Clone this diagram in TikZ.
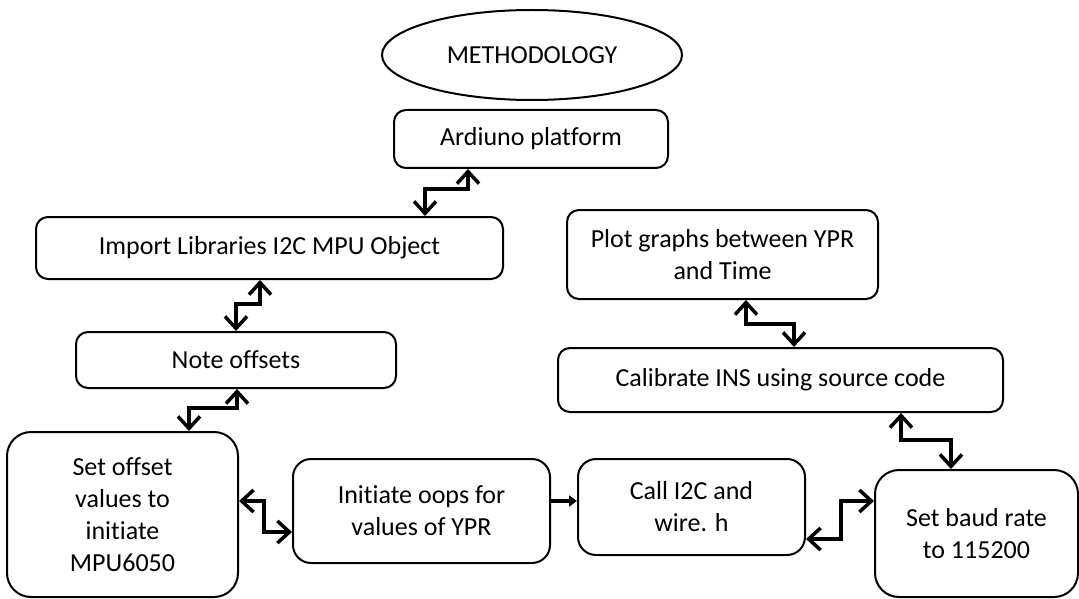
\documentclass[tikz,border=0pt]{standalone}
\usepackage{fontspec}
\setmainfont{Carlito}[Ligatures={NoCommon}]
\usetikzlibrary{arrows.meta,shapes.geometric}

\tikzset{
  box/.style={draw, line width=2pt, rounded corners=12pt, align=center,
    inner sep=0pt, font=\fontsize{26}{32}\selectfont},
  bigbox/.style={box, rounded corners=24pt},
  link/.style={line width=3.5pt, line join=miter,
    {Straight Barb[length=12pt,width=22pt]}-{Straight Barb[length=12pt,width=22pt]}},
  push/.style={line width=3.5pt, -{Triangle[length=8pt,width=11pt]}},
}

\begin{document}
\begin{tikzpicture}[x=1pt,y=-1pt]
\useasboundingbox (0,0) rectangle (1079,599);

% title
\node[draw, line width=2pt, ellipse, minimum width=300pt, minimum height=90pt,
  font=\fontsize{26}{30}\selectfont] (title) at (532,55) {METHODOLOGY};

% process steps
\node[box, minimum width=274pt, minimum height=58pt] (ard) at (531,139) {Ardiuno platform};
\node[box, minimum width=467pt, minimum height=62pt] (imp) at (269.5,248) {Import Libraries I2C MPU Object};
\node[box, minimum width=320pt, minimum height=56pt] (note) at (236,360) {Note offsets};
\node[bigbox, minimum width=231pt, minimum height=165pt] (setoff) at (122.5,514.5)
  {Set offset\\values to\\initiate\\MPU6050};
\node[box, rounded corners=18pt, minimum width=257pt, minimum height=104pt] (ini) at (421.5,511)
  {Initiate oops for\\values of YPR};
\node[box, rounded corners=18pt, minimum width=227pt, minimum height=96pt] (call) at (691.5,507)
  {Call I2C and\\wire. h};
\node[bigbox, minimum width=203pt, minimum height=127pt] (baud) at (976.5,533.5)
  {Set baud rate\\to 115200};
\node[box, minimum width=445pt, minimum height=64pt] (cal) at (780.5,380)
  {Calibrate INS using source code};
\node[box, minimum width=311pt, minimum height=89pt] (plot) at (722.5,254.5)
  {Plot graphs between YPR\\and Time};

% connectors
\draw[link] ([xshift=390pt]imp.north west) -- ++(0,-27) -| ([xshift=75pt]ard.south west);
\draw[link] ([xshift=161pt]note.north west) -- ++(0,-27) -| ([xshift=225pt]imp.south west);
\draw[link] ([xshift=183pt]setoff.north west) -- ++(0,-23) -| ([xshift=162pt]note.south west);
\draw[link] ([yshift=-70pt]setoff.north east) -- ++(25,0) |- ([yshift=-74pt]ini.north west);
\draw[push] ([yshift=-43pt]ini.north east) -- ([yshift=-43pt]call.north west);
\draw[link] ([yshift=17pt]call.south east) -- ++(35,0) |- ([yshift=-32pt]baud.north west);
\draw[link] ([xshift=77pt]baud.north west) -- ++(0,-29) -| ([xshift=344pt]cal.south west);
\draw[link] ([xshift=237pt]cal.north west) -- ++(0,-23) -| ([xshift=180pt]plot.south west);
\end{tikzpicture}
\end{document}
